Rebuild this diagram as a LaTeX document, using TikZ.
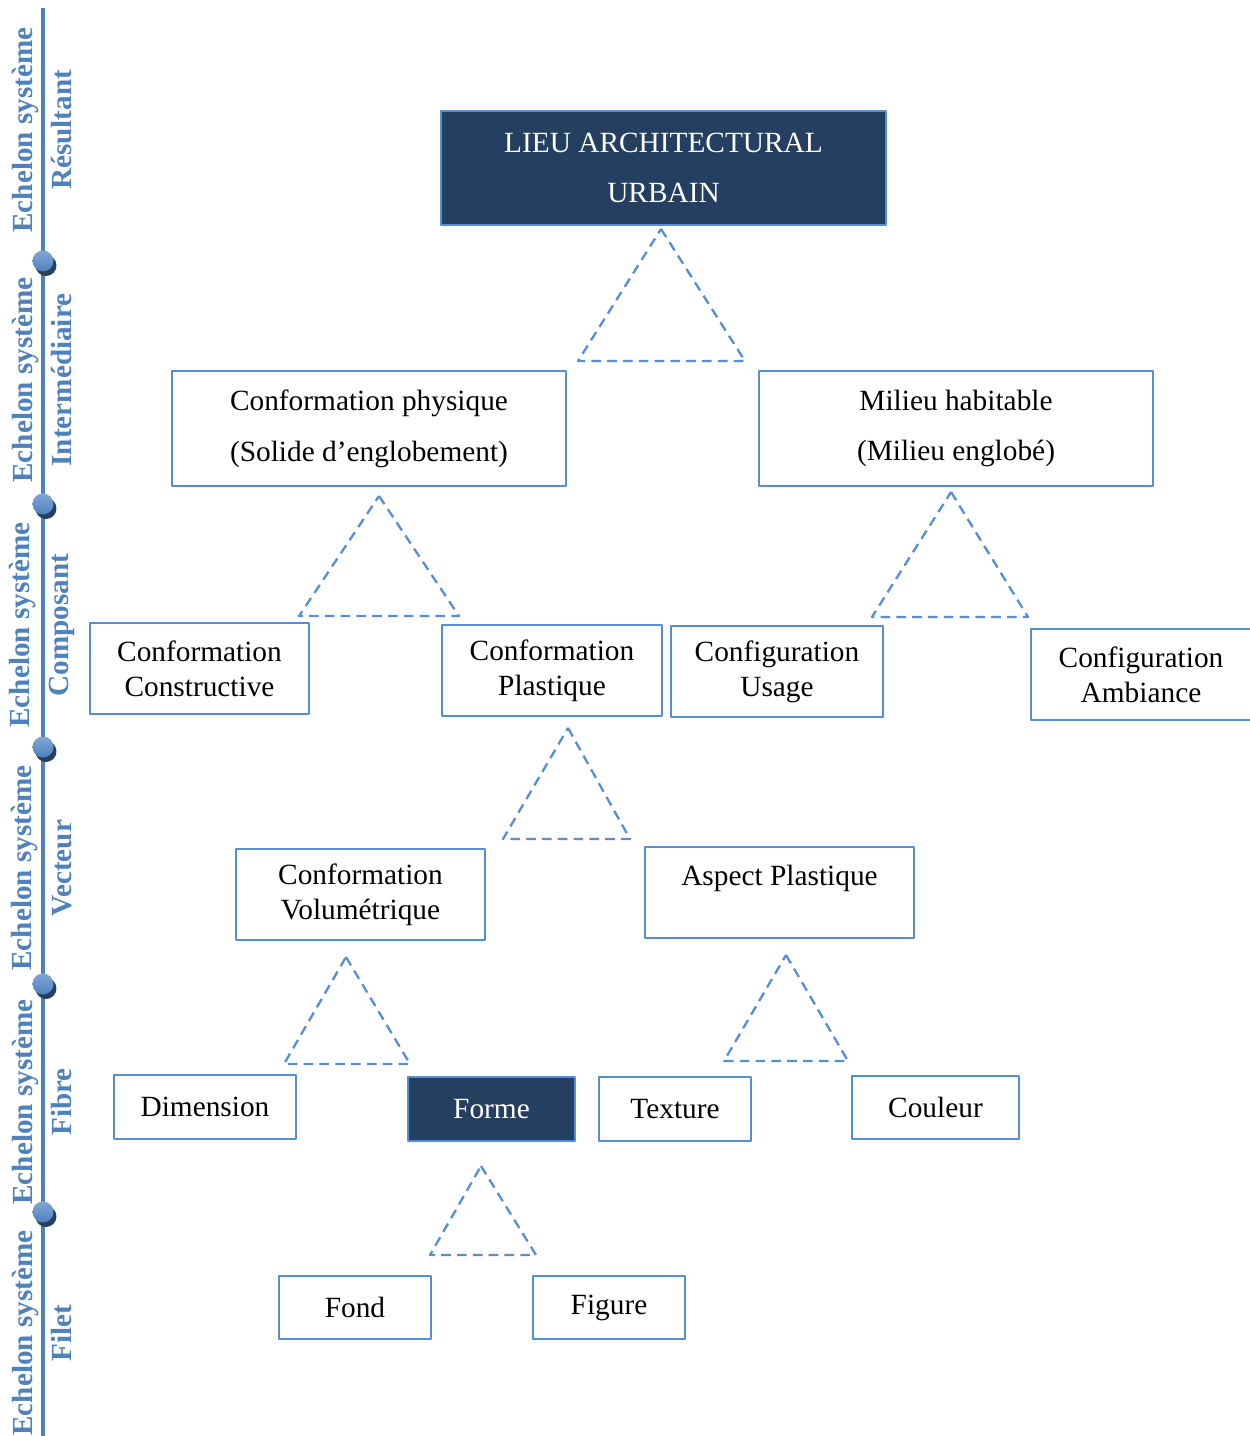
\documentclass[tikz,border=0pt]{standalone}
\usepackage{fontspec}
\setmainfont{Liberation Serif}
\usetikzlibrary{calc}
\definecolor{levelblue}{RGB}{79,129,189}
\definecolor{edgeblue}{RGB}{85,142,213}
\definecolor{navyfill}{RGB}{36,63,96}
\definecolor{dotshade}{RGB}{37,64,97}
\definecolor{dotlight}{RGB}{128,167,214}

\begin{document}
\begin{tikzpicture}[x=0.02cm,y=-0.02cm,line join=round,
 box/.style={draw=edgeblue,line width=1.4pt,align=center,inner sep=2pt,font=\fontsize{16.7}{19.8}\selectfont},
 widebox/.style={box,font=\fontsize{16.7}{28.9}\selectfont},
 darkbox/.style={fill=navyfill,text=white},
 tri/.style={draw=edgeblue,line width=1.3pt,dash pattern=on 5.5pt off 3.5pt},
 levelnote/.style={rotate=90,align=center,text=levelblue,font=\bfseries\fontsize{16.6}{22.7}\selectfont}]
 \useasboundingbox (0,0) rectangle (1249,1436);
 % echelons on the left
 \draw[levelblue,line width=2.3pt] (43,8) -- (43,1436);
 \foreach \yy/\lvl [count=\i] in {130/Résultant,380/Intermédiaire,625/Composant,868/Vecteur,1102/Fibre,1333/Filet}
  \node[levelnote] (level\i) at (42,\yy) {Echelon système\\\lvl};
 \foreach \yy in {261,504,747,984,1212}
  {\fill[dotshade] (46,\yy+4.5) circle[radius=0.21cm];
   \shade[top color=dotlight,bottom color=levelblue] (43,\yy) circle[radius=0.21cm];}
 % boxes
 \node[widebox,darkbox,minimum width=8.9cm,minimum height=2.28cm] (lieu) at (663.5,168) {LIEU ARCHITECTURAL\\URBAIN};
 \node[widebox,minimum width=7.88cm,minimum height=2.3cm] (physique) at (369,428.5) {Conformation physique\\(Solide d’englobement)};
 \node[widebox,minimum width=7.88cm,minimum height=2.3cm] (milieu) at (956,428.5) {Milieu habitable\\(Milieu englobé)};
 \node[box,minimum width=4.38cm,minimum height=1.82cm] (constructive) at (199.5,668.5) {Conformation\\Constructive};
 \node[box,minimum width=4.4cm,minimum height=1.82cm] (plastique) at (552,670.5) {Conformation\\Plastique};
 \node[box,minimum width=4.24cm,minimum height=1.82cm] (usage) at (777,671.5) {Configuration\\Usage};
 \node[box,minimum width=4.4cm,minimum height=1.82cm] (ambiance) at (1141,674.5) {Configuration\\Ambiance};
 \node[box,minimum width=4.98cm,minimum height=1.82cm] (volume) at (360.5,894.5) {Conformation\\Volumétrique};
 \node[box,minimum width=5.38cm,minimum height=1.82cm] (aspect) at (779.5,892.5) {Aspect Plastique\\~};
 \node[box,minimum width=3.64cm,minimum height=1.28cm] (dimension) at (205,1107) {Dimension};
 \node[box,darkbox,minimum width=3.34cm,minimum height=1.28cm] (forme) at (491.5,1109) {Forme};
 \node[box,minimum width=3.04cm,minimum height=1.28cm] (texture) at (675,1109) {Texture};
 \node[box,minimum width=3.34cm,minimum height=1.26cm] (couleur) at (935.5,1107.5) {Couleur};
 \node[box,minimum width=3.04cm,minimum height=1.26cm] (fond) at (355,1307.5) {Fond};
 \node[box,minimum width=3.04cm,minimum height=1.26cm] (figure) at (609,1307.5) {Figure};
 % dashed triangles
 \foreach \ax/\ay/\bl/\br/\by in {661/229/578/745/361,379/496/299/459/616,951/492/872/1028/617,
   568/728/503/630/839,346/957/284/410/1064,786/955/724/848/1061,481/1166/430/536/1255}
  \draw[tri] (\ax,\ay) -- (\br,\by) -- (\bl,\by) -- cycle;
\end{tikzpicture}
\end{document}
